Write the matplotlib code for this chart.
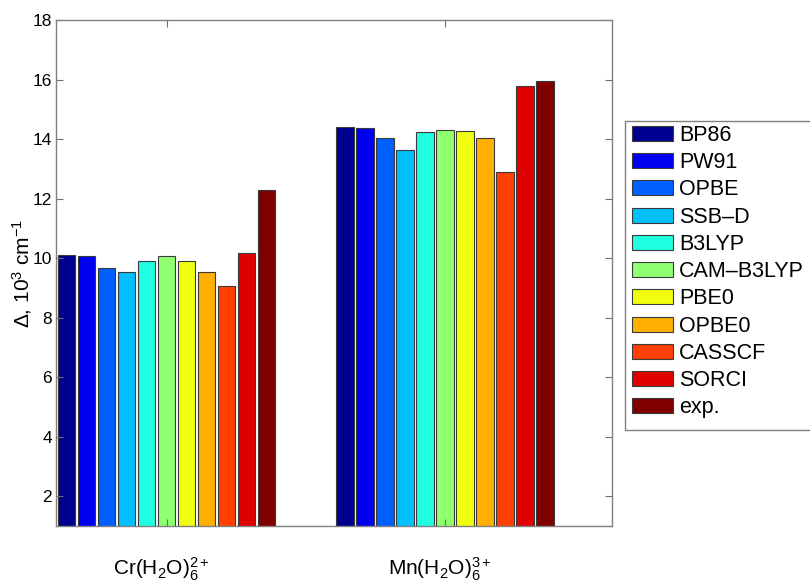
import matplotlib
matplotlib.use("Agg")
import matplotlib.pyplot as plt
import matplotlib.transforms as mtransforms
from matplotlib.patches import Rectangle
import numpy as np

plt.rcParams['font.family'] = ['Liberation Sans', 'DejaVu Sans']
plt.rcParams['mathtext.fontset'] = 'custom'
plt.rcParams['mathtext.rm'] = 'Liberation Sans'
plt.rcParams['mathtext.it'] = 'Liberation Sans'
plt.rcParams['mathtext.bf'] = 'Liberation Sans:bold'
plt.rcParams['mathtext.sf'] = 'Liberation Sans'

groups = [r'Cr(H$_2$O)$_6^{2+}$', r'Mn(H$_2$O)$_6^{3+}$']
methods = ['BP86', 'PW91', 'OPBE', 'SSB\u2013D', 'B3LYP', 'CAM\u2013B3LYP',
           'PBE0', 'OPBE0', 'CASSCF', 'SORCI', 'exp.']
cr_values = [10.10, 10.06, 9.66, 9.54, 9.91, 10.06, 9.91, 9.55, 9.08, 10.18, 12.30]
mn_values = [14.39, 14.36, 14.04, 13.64, 14.23, 14.29, 14.26, 14.04, 12.90, 15.78, 15.96]
colors = ['#000090', '#0000F0', '#0060FF', '#00C0FF', '#20FFE0', '#90FF70',
          '#F0FF10', '#FFB000', '#FF4000', '#E00000', '#800000']
yticks = [2, 4, 6, 8, 10, 12, 14, 16, 18]

fig = plt.figure(figsize=(8.1, 5.87), dpi=100)
ax = fig.add_axes([56 / 810, 1 - 526 / 587, (612 - 56) / 810, (526 - 20) / 587])

centers = np.arange(1, len(groups) + 1)
step = 0.0719
width = 0.062
for i, m in enumerate(methods):
    vals = [cr_values[i], mn_values[i]]
    ax.bar(centers + (i - 5) * step, vals, width=width, bottom=0,
           color=colors[i], edgecolor='#3a3a3a', linewidth=0.8, label=m)

ax.set_xlim(0.602, 2.6)
ax.set_ylim(1, 18)
ax.set_yticks(yticks)
ax.set_xticks(centers)
ax.set_xticklabels(groups, fontsize=15)
ax.tick_params(axis='both', direction='in', top=True, right=True, length=5,
               width=0.8, color='#707070')
ax.tick_params(axis='y', labelsize=12.5, pad=3)
ax.tick_params(axis='x', pad=21)
offset = mtransforms.ScaledTranslation(-5 / 100, 0, fig.dpi_scale_trans)
for lab in ax.get_xticklabels():
    lab.set_transform(lab.get_transform() + offset)
for s in ax.spines.values():
    s.set_color('#808080')
    s.set_linewidth(1.0)
ax.set_ylabel(r'$\Delta$, 10$^3$ cm$^{-1}$', fontsize=15, labelpad=-1)

leg = fig.legend(loc='upper left', bbox_to_anchor=(632 / 810, 1 - 125 / 587),
                 fontsize=15.5, frameon=False, borderaxespad=0,
                 handlelength=1.9, handleheight=0.7, labelspacing=0.29,
                 handletextpad=0.3, borderpad=0.0)
fig.patches.append(Rectangle((625 / 810, 1 - 430 / 587), 200 / 810, (430 - 121) / 587,
                             transform=fig.transFigure, fill=False,
                             edgecolor='#808080', linewidth=1.0))

fig.savefig('out.png', dpi=100)
